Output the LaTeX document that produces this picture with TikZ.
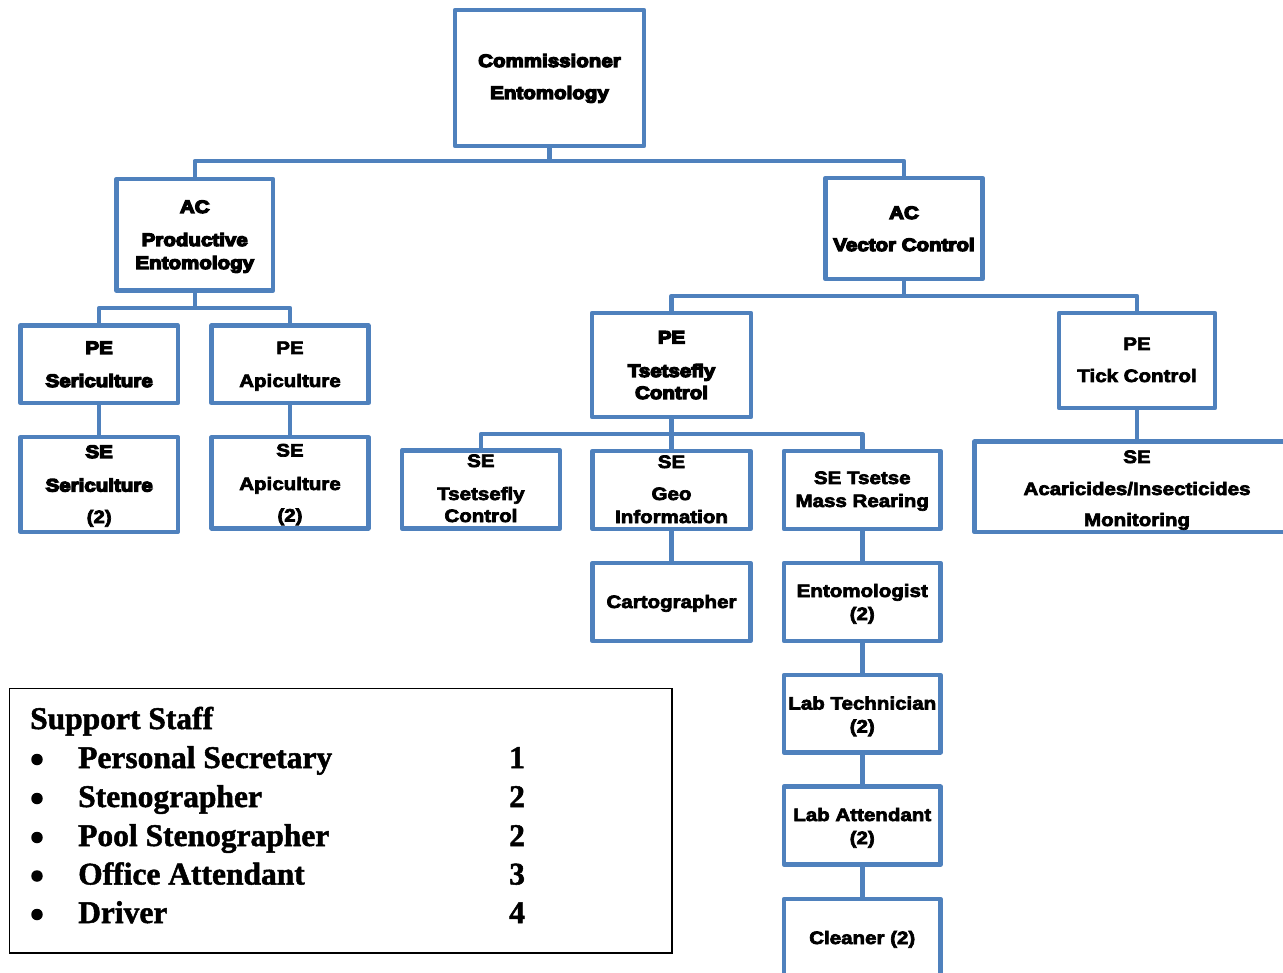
\documentclass[tikz,border=0pt]{standalone}
\usepackage{fontspec}
\setmainfont{Liberation Serif}
\newfontfamily\boxfont[FakeStretch=1.14]{Liberation Sans}
\definecolor{orgblue}{HTML}{4F81BD}

% outline weight for label text (fill + stroke render mode)
\newcommand\inkweight[1]{\special{pdf:literal direct 2 Tr #1 w}}
\newcommand\inkreset{\special{pdf:literal direct 0 Tr}}

\tikzset{
  unit/.style={rectangle, draw=orgblue, line width=4.5pt, line join=round,
               fill=white, inner sep=0pt},
  conn/.style={draw=orgblue, line width=4.5pt, line join=round},
  lbl/.style={anchor=base, inner sep=0pt,
              font=\boxfont\bfseries\fontsize{18}{21}\selectfont\inkweight{0.7},
              execute at end node=\inkreset},
  hlbl/.style={anchor=base, inner sep=0pt,
               font=\boxfont\bfseries\fontsize{18}{21}\selectfont\inkweight{1.3},
               execute at end node=\inkreset},
  stafftxt/.style={anchor=base west, inner sep=0pt,
                   font=\bfseries\fontsize{31.5}{38}\selectfont\inkweight{0.5},
                   execute at end node=\inkreset},
  bulletdot/.style={circle, fill=black, inner sep=0pt, minimum size=11.5pt},
}

\begin{document}
\begin{tikzpicture}[x=1pt,y=-1pt]
\clip (0,0) rectangle (1283,973);
\fill[white] (0,0) rectangle (1283,973);

% ---------- units ----------
\node[unit, minimum width=189pt,   minimum height=136pt]  (comm)   at (549.5,78)     {};
\node[unit, minimum width=156.5pt, minimum height=111.5pt](acp)    at (194.75,234.75){};
\node[unit, minimum width=157pt,   minimum height=101pt]  (acv)    at (904,228.5)    {};
\node[unit, minimum width=157.3pt, minimum height=77.5pt] (pes)    at (99.2,364.25)  {};
\node[unit, minimum width=156.6pt, minimum height=77.5pt] (pea)    at (290,364.25)   {};
\node[unit, minimum width=157.3pt, minimum height=94.5pt] (ses)    at (99.2,484.5)   {};
\node[unit, minimum width=156.6pt, minimum height=91pt]   (sea)    at (290,482.75)   {};
\node[unit, minimum width=159pt,   minimum height=104pt]  (pet)    at (671.5,365)    {};
\node[unit, minimum width=156pt,   minimum height=95pt]   (petick) at (1137,360.5)   {};
\node[unit, minimum width=158.3pt, minimum height=78pt]   (set)    at (480.9,489.5)  {};
\node[unit, minimum width=158pt,   minimum height=78pt]   (seg)    at (671.5,490)    {};
\node[unit, minimum width=156.5pt, minimum height=78pt]   (sem)    at (862.25,490)   {};
\node[unit, minimum width=325pt,   minimum height=90.3pt] (seac)   at (1137,486.85)  {};
\node[unit, minimum width=158pt,   minimum height=78pt]   (cart)   at (671.5,602)    {};
\node[unit, minimum width=156.5pt, minimum height=78pt]   (ento)   at (862.25,602)   {};
\node[unit, minimum width=156.5pt, minimum height=77.3pt] (labt)   at (862.25,713.65){};
\node[unit, minimum width=156.5pt, minimum height=77.8pt] (laba)   at (862.25,825.6) {};
\node[unit, minimum width=156.5pt, minimum height=78pt]   (clean)  at (862.25,938)   {};

% ---------- connectors ----------
\coordinate (b1) at (0,161);
\coordinate (b2) at (0,308);
\coordinate (b3) at (0,296);
\coordinate (b4) at (0,434);

\draw[conn] (comm.south) -- (comm.south |- b1);
\draw[conn] (acp.north) |- (comm.south |- b1) -| (acv.north);
\draw[conn] (acp.south) -- (acp.south |- b2);
\draw[conn] (pes.north) |- (acp.south |- b2) -| (pea.north);
\draw[conn] (pes.south) -- (ses.north);
\draw[conn] (pea.south) -- (sea.north);
\draw[conn] (acv.south) -- (acv.south |- b3);
\draw[conn] (pet.north) |- (acv.south |- b3) -| (petick.north);
\draw[conn] (pet.south) -- (seg.north);
\draw[conn] (set.north) |- (pet.south |- b4) -| (sem.north);
\draw[conn] (petick.south) -- (seac.north);
\draw[conn] (seg.south) -- (cart.north);
\draw[conn] (sem.south) -- (ento.north);
\draw[conn] (ento.south) -- (labt.north);
\draw[conn] (labt.south) -- (laba.north);
\draw[conn] (laba.south) -- (clean.north);

% ---------- labels ----------
\node[hlbl] (comm-1) at (549.5,67) {Commissioner};
\node[hlbl] (comm-2) at (549.5,99) {Entomology};

\node[hlbl] (acp-1) at (194.75,213) {AC};
\node[hlbl] (acp-2) at (194.75,246) {Productive};
\node[hlbl] (acp-3) at (194.75,269) {Entomology};

\node[hlbl] (acv-1) at (904,219) {AC};
\node[hlbl] (acv-2) at (904,251) {Vector Control};

\node[hlbl] (pes-1) at (99.2,354) {PE};
\node[hlbl] (pes-2) at (99.2,387) {Sericulture};
\node[lbl]  (pea-1) at (290,354) {PE};
\node[lbl]  (pea-2) at (290,387) {Apiculture};

\node[hlbl] (ses-1) at (99.2,458) {SE};
\node[hlbl] (ses-2) at (99.2,491.5) {Sericulture};
\node[lbl]  (ses-3) at (99.2,523) {(2)};
\node[lbl]  (sea-1) at (290,456.5) {SE};
\node[lbl]  (sea-2) at (290,490) {Apiculture};
\node[lbl]  (sea-3) at (290,521.5) {(2)};

\node[hlbl] (pet-1) at (671.5,343.5) {PE};
\node[hlbl] (pet-2) at (671.5,377) {Tsetsefly};
\node[hlbl] (pet-3) at (671.5,399) {Control};

\node[lbl] (petick-1) at (1137,350) {PE};
\node[lbl] (petick-2) at (1137,382) {Tick Control};

\node[lbl] (set-1) at (480.9,467) {SE};
\node[lbl] (set-2) at (480.9,500) {Tsetsefly};
\node[lbl] (set-3) at (480.9,522) {Control};

\node[lbl] (seg-1) at (671.5,468) {SE};
\node[lbl] (seg-2) at (671.5,500) {Geo};
\node[lbl] (seg-3) at (671.5,523) {Information};

\node[lbl] (sem-1) at (862.25,484) {SE Tsetse};
\node[lbl] (sem-2) at (862.25,507) {Mass Rearing};

\node[lbl] (seac-1) at (1137,463) {SE};
\node[lbl] (seac-2) at (1137,495) {Acaricides/Insecticides};
\node[lbl] (seac-3) at (1137,526) {Monitoring};

\node[lbl] (cart-1) at (671.5,608) {Cartographer};

\node[lbl] (ento-1) at (862.25,597) {Entomologist};
\node[lbl] (ento-2) at (862.25,620) {(2)};
\node[lbl] (labt-1) at (862.25,709.5) {Lab Technician};
\node[lbl] (labt-2) at (862.25,732.5) {(2)};
\node[lbl] (laba-1) at (862.25,821) {Lab Attendant};
\node[lbl] (laba-2) at (862.25,844) {(2)};
\node[lbl] (clean-1) at (862.25,944) {Cleaner (2)};

% ---------- support staff ----------
\node[rectangle, draw=black, line width=1.5pt, inner sep=0pt,
      minimum width=662.5pt, minimum height=264.5pt] (staff) at (340.75,820.75) {};
\node[stafftxt] (staff-h) at (30,729) {Support Staff};
\foreach \role/\num/\yy [count=\i] in
  {Personal Secretary/1/768, Stenographer/2/807, Pool Stenographer/2/846,
   Office Attendant/3/884.5, Driver/4/923} {
  \node[bulletdot] (bul-\i) at (37,\yy-8.5) {};
  \node[stafftxt] (role-\i) at (78,\yy) {\role};
  \node[stafftxt] (num-\i) at (509,\yy) {\num};
}
\end{tikzpicture}
\end{document}
